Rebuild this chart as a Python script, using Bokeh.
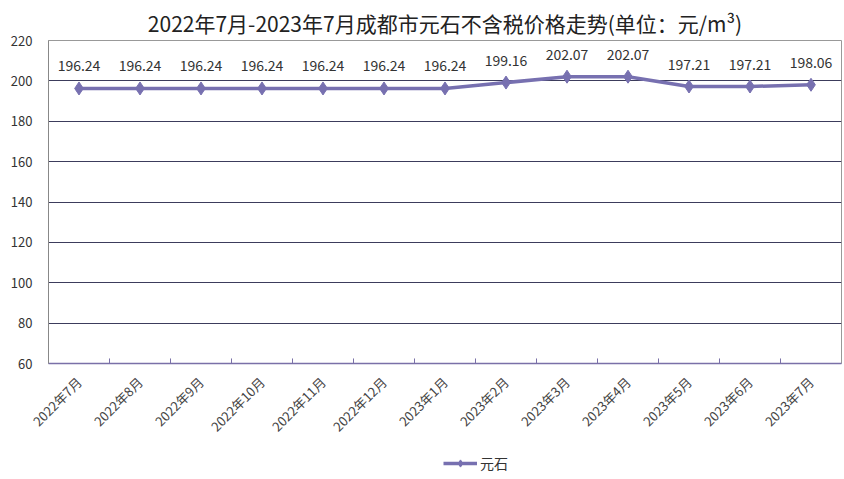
import math
from bokeh.plotting import figure
from bokeh.layouts import column
from bokeh.models import ColumnDataSource, FixedTicker, Legend, LegendItem, LabelSet, Range1d
from bokeh.core.properties import value
from bokeh.embed import file_html
from bokeh.resources import INLINE

categories = ["2022年7月", "2022年8月", "2022年9月", "2022年10月", "2022年11月", "2022年12月",
              "2023年1月", "2023年2月", "2023年3月", "2023年4月", "2023年5月", "2023年6月", "2023年7月"]
values = [196.24, 196.24, 196.24, 196.24, 196.24, 196.24, 196.24, 199.16, 202.07, 202.07, 197.21, 197.21, 198.06]
y_ticks = [60, 80, 100, 120, 140, 160, 180, 200, 220]
series_name = "元石"
title_text = "2022年7月-2023年7月成都市元石不含税价格走势(单位：元/m³)"

FONT = "Noto Sans CJK SC"
LINE_COLOR = "#7770b0"

xs = list(range(len(categories)))
labels = [f"{v:.2f}" for v in values]
src = ColumnDataSource(data=dict(x=xs, y=values, label=labels))

p = figure(width=842, height=453, output_backend="svg", toolbar_location=None,
           x_range=Range1d(-0.5, len(categories) - 0.5), y_range=Range1d(60, 220),
           min_border_left=48, min_border_right=1, min_border_top=40, min_border_bottom=90)

p.title.text = title_text
p.title.text_font = FONT
p.title.text_font_size = "21px"
p.title.text_font_style = "normal"
p.title.text_color = "#222222"
p.title.align = "center"
p.title.offset = 0
p.title.standoff = 6

p.outline_line_color = "#999999"
p.background_fill_color = "white"
p.xgrid.grid_line_color = None
p.ygrid.grid_line_color = "#3c3c5c"
p.ygrid.grid_line_width = 1.2

p.yaxis.ticker = FixedTicker(ticks=y_ticks)
p.yaxis.axis_line_color = "#888888"
p.yaxis.major_tick_line_color = None
p.yaxis.minor_tick_line_color = None
p.yaxis.major_label_text_font = FONT
p.yaxis.major_label_text_font_size = "13px"
p.yaxis.major_label_text_color = "#333333"
p.yaxis.major_label_standoff = 10

p.xaxis.ticker = FixedTicker(ticks=xs)
p.xaxis.major_label_overrides = {i: c for i, c in enumerate(categories)}
p.xaxis.major_label_orientation = math.pi / 4
p.xaxis.major_label_text_font = FONT
p.xaxis.major_label_text_font_size = "13px"
p.xaxis.major_label_text_color = "#444444"
p.xaxis.axis_line_color = "#7a70a8"
p.xaxis.axis_line_width = 1.5
p.xaxis.major_tick_line_color = None
p.xaxis.minor_tick_line_color = None
p.xaxis.major_label_standoff = 10

# category boundary tick marks (inside)
bounds = [i + 0.5 for i in xs[:-1]]
p.segment(x0=bounds, x1=bounds, y0=[60] * len(bounds), y1=[62.5] * len(bounds),
          line_color="#7a70a8", line_width=1)

p.line("x", "y", source=src, line_color=LINE_COLOR, line_width=3.5)
p.scatter("x", "y", source=src, marker="diamond", size=13,
          fill_color=LINE_COLOR, line_color=LINE_COLOR)

lbl = LabelSet(x="x", y="y", text="label", source=src, y_offset=17, text_align="center",
               text_baseline="bottom", text_font=value(FONT), text_font_size=value("14px"),
               text_color="#333333")
p.add_layout(lbl)

# legend strip below the chart (its renderers use the real data but lie outside its view)
lg = figure(width=842, height=20, output_backend="svg", toolbar_location=None,
            x_range=Range1d(-0.5, len(categories) - 0.5), y_range=Range1d(0, 1),
            min_border_left=0, min_border_right=0, min_border_top=0, min_border_bottom=0)
lg.axis.visible = False
lg.grid.visible = False
lg.outline_line_color = None
l_line = lg.line("x", "y", source=src, line_color=LINE_COLOR, line_width=3.5)
l_pts = lg.scatter("x", "y", source=src, marker="diamond", size=12,
                   fill_color=LINE_COLOR, line_color=LINE_COLOR)
legend = Legend(items=[LegendItem(label=series_name, renderers=[l_line, l_pts])],
                orientation="horizontal", location=(395, 0),
                label_text_font=FONT, label_text_font_size="14px", label_text_color="#333333",
                border_line_color=None, background_fill_alpha=0, margin=0, padding=0,
                glyph_width=34, label_height=18, glyph_height=18, label_standoff=3)
lg.add_layout(legend)

layout = column(p, lg, spacing=0)
open("out.html", "w").write(file_html(layout, INLINE))
